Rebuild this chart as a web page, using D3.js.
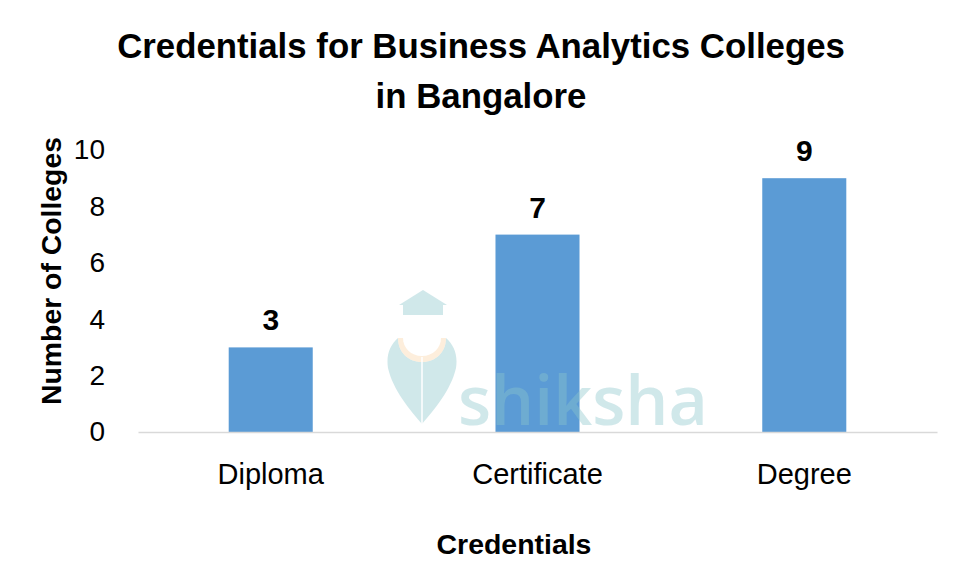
<!DOCTYPE html>
<html>
<head>
<meta charset="utf-8">
<script src="https://cdn.jsdelivr.net/npm/d3@7"></script>
<style>
  html, body { margin: 0; padding: 0; background: #fff; }
  svg { display: block; font-family: "Liberation Sans", Arial, sans-serif; }
</style>
</head>
<body>
<svg id="chart" width="961" height="567"></svg>
<script>
const categories = ["Diploma", "Certificate", "Degree"];
const values = [3, 7, 9];
const yTicks = [0, 2, 4, 6, 8, 10];
const titleLines = ["Credentials for Business Analytics Colleges", "in Bangalore"];
const xTitle = "Credentials";
const yTitle = "Number of Colleges";

const svg = d3.select("#chart");
const plot = { left: 138, right: 937, top: 150, bottom: 432 };

const x = d3.scaleBand().domain(categories).range([plot.left, plot.right]).paddingInner(0.685).paddingOuter(0.34);
const y = d3.scaleLinear().domain([0, 10]).range([plot.bottom, plot.top]);

function fitText(sel, targetWidth) {
  const fs = parseFloat(sel.attr("font-size"));
  const w = sel.node().getComputedTextLength();
  sel.attr("font-size", fs * targetWidth / w);
}

// title
const t1 = svg.append("text").attr("x", 481).attr("y", 58).attr("text-anchor", "middle")
  .attr("font-size", 32).attr("font-weight", "bold").attr("fill", "#000").text(titleLines[0]);
fitText(t1, 728);
svg.append("text").attr("x", 481).attr("y", 108).attr("text-anchor", "middle")
  .attr("font-size", t1.attr("font-size")).attr("font-weight", "bold").attr("fill", "#000").text(titleLines[1]);

// y axis (labels only)
const yAxis = svg.append("g").attr("transform", `translate(${plot.left},0)`)
  .call(d3.axisLeft(y).tickValues(yTicks).tickSize(0).tickPadding(33));
yAxis.select(".domain").remove();
yAxis.selectAll("text").attr("font-size", 28).attr("fill", "#000");

// bars
svg.append("g").selectAll("rect").data(values).join("rect")
  .attr("x", (d, i) => x(categories[i]))
  .attr("width", x.bandwidth())
  .attr("y", d => y(d))
  .attr("height", d => y(0) - y(d))
  .attr("fill", "#5b9bd5");

// value labels
svg.append("g").selectAll("text").data(values).join("text")
  .attr("x", (d, i) => x(categories[i]) + x.bandwidth() / 2)
  .attr("y", d => y(d) - 17)
  .attr("text-anchor", "middle")
  .attr("font-size", 30).attr("font-weight", "bold").attr("fill", "#000")
  .text(d => d);

// x axis
const xAxis = svg.append("g").attr("transform", `translate(0,${plot.bottom})`)
  .call(d3.axisBottom(x).tickSize(0).tickPadding(31));
xAxis.select(".domain").attr("stroke", "#d9d9d9").attr("stroke-width", 1.5);
xAxis.selectAll("text").attr("font-size", 29).attr("fill", "#000");

// watermark (drawn over bars, translucent)
const wm = svg.append("g").attr("opacity", 0.4).attr("fill", "#8cc6cc");
wm.append("path")
  .attr("d", "M423,290 L447,305 L443,305 L443,315 L403,315 L403,305 L399,305 Z");
wm.append("path").attr("fill-rule", "evenodd")
  .attr("d", "M398,338 C390,345 386,355 388,368 C393,390 410,410 422,424 C434,410 451,390 456,368 C458,355 454,345 446,338 C446,352 436,362 422,362 C408,362 398,352 398,338 Z");
svg.append("path").attr("fill", "#fbe3c4").attr("opacity", 0.6)
  .attr("d", "M398,338 C398,352 408,362 422,362 C436,362 446,352 446,338 L441,338 C441,348 433,356 422,356 C411,356 403,348 403,338 Z");
svg.append("line").attr("x1", 422).attr("x2", 422).attr("y1", 357).attr("y2", 424)
  .attr("stroke", "#fff").attr("stroke-width", 1.5);
const wt = wm.append("text").attr("x", 458).attr("y", 425).attr("font-size", 70)
  .attr("font-family", "'Open Sans', sans-serif").attr("font-weight", 600).text("shiksha");
fitText(wt, 250);

// axis titles
const xt = svg.append("text").attr("x", 514).attr("y", 554).attr("text-anchor", "middle")
  .attr("font-size", 28).attr("font-weight", "bold").attr("fill", "#000").text(xTitle);
fitText(xt, 155);
const yt = svg.append("text").attr("transform", "translate(61,271) rotate(-90)").attr("text-anchor", "middle")
  .attr("font-size", 25).attr("font-weight", "bold").attr("fill", "#000").text(yTitle);
fitText(yt, 268);
</script>
</body>
</html>
